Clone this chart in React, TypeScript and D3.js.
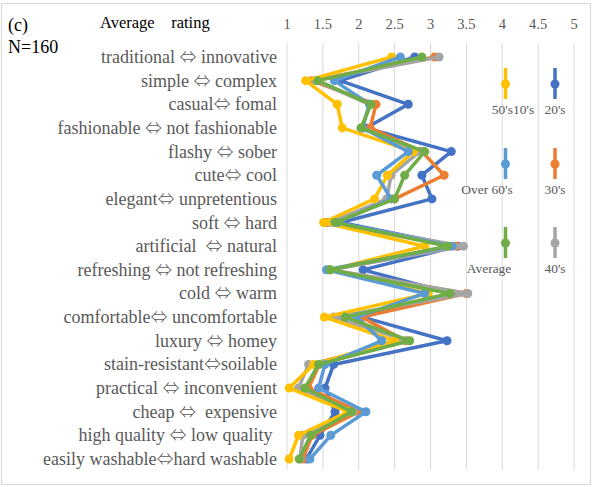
import React from "react";
import * as d3 from "d3";

const categories = [
  "traditional ⇔ innovative",
  "simple ⇔ complex",
  "casual⇔ fomal",
  "fashionable ⇔ not fashionable",
  "flashy ⇔ sober",
  "cute⇔ cool",
  "elegant⇔ unpretentious",
  "soft ⇔ hard",
  "artificial  ⇔ natural",
  "refreshing ⇔ not refreshing",
  "cold ⇔ warm",
  "comfortable⇔ uncomfortable",
  "luxury ⇔ homey",
  "stain-resistant⇔soilable",
  "practical ⇔ inconvenient",
  "cheap ⇔  expensive",
  "high quality ⇔ low quality ",
  "easily washable⇔hard washable",
];

const ticks = [1, 1.5, 2, 2.5, 3, 3.5, 4, 4.5, 5];

const s20 = [2.78, 1.74, 2.69, 2.1, 3.29, 2.88, 3.02, 1.75, 3.38, 2.06, 3.3, 2.05, 3.23, 1.65, 1.53, 1.67, 1.46, 1.27];
const s30 = [3.06, 1.34, 2.24, 2.16, 2.88, 3.19, 2.5, 1.55, 3.36, 1.6, 3.5, 2.04, 2.65, 1.45, 1.3, 2.0, 1.35, 1.22];
const s40 = [3.12, 1.4, 2.15, 2.05, 2.85, 2.45, 2.39, 1.6, 3.46, 1.6, 3.52, 1.65, 2.68, 1.3, 1.16, 1.92, 1.22, 1.18];
const s50 = [2.46, 1.26, 1.7, 1.77, 2.76, 2.4, 2.22, 1.51, 2.92, 1.6, 2.97, 1.52, 2.5, 1.37, 1.03, 1.85, 1.16, 1.03];
const s60 = [2.58, 1.66, 2.15, 2.05, 2.69, 2.25, 2.45, 1.7, 3.3, 1.55, 2.92, 1.97, 2.32, 1.53, 1.44, 2.1, 1.61, 1.32];
const sAvg = [2.88, 1.43, 2.17, 2.03, 2.92, 2.64, 2.5, 1.67, 3.24, 1.6, 3.27, 1.81, 2.71, 1.44, 1.25, 1.9, 1.33, 1.17];

const series = [
  { name: "20's", values: s20, color: "#4472C4" },
  { name: "30's", values: s30, color: "#ED7D31" },
  { name: "40's", values: s40, color: "#A5A5A5" },
  { name: "50's", values: s50, color: "#FFC000" },
  { name: "Over 60's", values: s60, color: "#5B9BD5" },
  { name: "Average", values: sAvg, color: "#70AD47" },
];

// legend entries: marker column, row and label
const legendItems = [
  { name: "50's", label: "50's10's", col: 0, row: 0, color: "#FFC000" },
  { name: "20's", label: "20's", col: 1, row: 0, color: "#4472C4" },
  { name: "Over 60's", label: "Over 60's", col: 0, row: 1, color: "#5B9BD5" },
  { name: "30's", label: "30's", col: 1, row: 1, color: "#ED7D31" },
  { name: "Average", label: "Average", col: 0, row: 2, color: "#70AD47" },
  { name: "40's", label: "40's", col: 1, row: 2, color: "#A5A5A5" },
];

const W = 597;
const H = 487;
const serif = "'Liberation Serif', 'Times New Roman', serif";
const arrowFont = "'Noto Sans CJK JP', 'DejaVu Sans', sans-serif";

// splits a label so the double arrow can use a font that carries it full-width
function Label({ text }: { text: string }) {
  const parts = text.split("⇔");
  return (
    <>
      {parts[0]}
      <tspan fontFamily={arrowFont} fontWeight={300} fontSize="0.95em">⇔</tspan>
      {parts[1]}
    </>
  );
}

export default function App() {
  const x = d3.scaleLinear().domain([1, 5]).range([287, 574]);
  const y = d3.scalePoint<string>().domain(categories).range([57, 459]);
  const line = d3
    .line<number>()
    .x((d) => x(d))
    .y((_, i) => y(categories[i]) as number);

  const legendX = [505.5, 555];
  const legendY = [84, 164, 243];
  const labelX = [
    [513, 555],
    [487, 555],
    [489, 555],
  ];

  return (
    <svg
      width={W}
      height={H}
      style={{ position: "absolute", left: 0, top: 0, background: "#fff" }}
      fontFamily={serif}
    >
      <rect x={1.5} y={3.5} width={589} height={481} fill="#fff" stroke="#D9D9D9" />

      {ticks.map((t) => (
        <g key={t}>
          <line x1={x(t)} x2={x(t)} y1={43} y2={470} stroke="#D9D9D9" strokeWidth={1} />
          <text x={x(t)} y={29} textAnchor="middle" fontSize={14.5} fill="#595959">
            {t}
          </text>
        </g>
      ))}

      <text x={8} y={31} fontSize={18} fill="#000">(c)</text>
      <text x={8} y={53} fontSize={18} fill="#000">N=160</text>
      <text x={100} y={28} fontSize={16.5} fill="#000" style={{ whiteSpace: "pre" }}>
        {"Average    rating"}
      </text>

      {categories.map((c) => (
        <text
          key={c}
          x={277}
          y={(y(c) as number) + 6}
          textAnchor="end"
          fontSize={18}
          fill="#595959"
          style={{ whiteSpace: "pre" }}
        >
          <Label text={c} />
        </text>
      ))}

      {series.map((s) => (
        <g key={s.name}>
          <path
            d={line(s.values) || ""}
            fill="none"
            stroke={s.color}
            strokeWidth={3.5}
            strokeLinejoin="round"
          />
          {s.values.map((v, i) => (
            <circle key={i} cx={x(v)} cy={y(categories[i]) as number} r={4.5} fill={s.color} />
          ))}
        </g>
      ))}

      {legendItems.map((l) => {
        const cx = legendX[l.col];
        const cy = legendY[l.row];
        return (
          <g key={l.name}>
            <line x1={cx} x2={cx} y1={cy - 16} y2={cy + 15} stroke={l.color} strokeWidth={3.5} />
            <circle cx={cx} cy={cy} r={4.5} fill={l.color} />
            <text
              x={labelX[l.row][l.col]}
              y={cy + 30}
              textAnchor="middle"
              fontSize={13.5}
              fill="#595959"
            >
              {l.label}
            </text>
          </g>
        );
      })}
    </svg>
  );
}
